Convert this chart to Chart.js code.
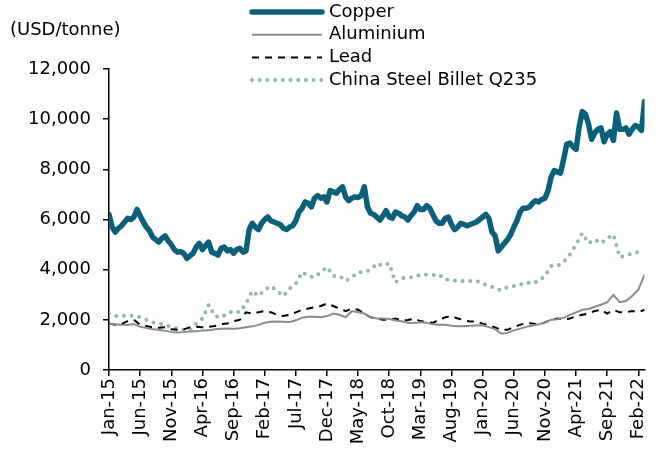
<!DOCTYPE html>
<html>
<head>
<meta charset="utf-8">
<script src="https://cdn.jsdelivr.net/npm/chart.js@4/dist/chart.umd.min.js"></script>
<style>
  html, body { margin: 0; padding: 0; background: #fff; }
  #wrap { width: 662px; height: 456px; position: relative; }
</style>
</head>
<body>
<div id="wrap"><canvas id="c" width="662" height="456"></canvas></div>
<script>
// Month index 0 = Jan-15; axis labels every 5 months.
const tickPos = [0, 5, 10, 15, 20, 25, 30, 35, 40, 45, 50, 55, 60, 65, 70, 75, 80, 85];
const tickLabels = ['Jan-15', 'Jun-15', 'Nov-15', 'Apr-16', 'Sep-16', 'Feb-17', 'Jul-17', 'Dec-17', 'May-18',
    'Oct-18', 'Mar-19', 'Aug-19', 'Jan-20', 'Jun-20', 'Nov-20', 'Apr-21', 'Sep-21', 'Feb-22'];
const yTicks = [0, 2000, 4000, 6000, 8000, 10000, 12000];

// Copper, read every half month (USD/tonne)
const copper = [
    6200, 5700, 5500, 5650, 5750, 5900, 6050, 6000, 6100, 6400,
    6150, 5900, 5700, 5550, 5300, 5200, 5100, 5250, 5350, 5150,
    5000, 4800, 4700, 4720, 4650, 4450, 4550, 4650, 4900, 5050,
    4800, 4950, 5100, 4700, 4650, 4580, 4850, 4900, 4750, 4800,
    4650, 4800, 4850, 4700, 4750, 5600, 5850, 5700, 5600, 5850,
    6000, 6100, 5950, 5900, 5850, 5800, 5650, 5600, 5700, 5750,
    5950, 6300, 6450, 6700, 6650, 6500, 6850, 6950, 6850, 6900,
    6700, 7150, 7100, 7050, 7200, 7300, 6900, 6750, 6850, 6900,
    6880, 6950, 7300, 6500, 6250, 6200, 6100, 5980, 6150, 6350,
    6100, 6050, 6300, 6250, 6150, 6100, 5980, 6150, 6300, 6550,
    6400, 6400, 6550, 6450, 6200, 5950, 5850, 5850, 6050, 6100,
    5800, 5600, 5700, 5850, 5800, 5750, 5800, 5850, 5900, 6000,
    6100, 6200, 6050, 5500, 5350, 4750, 4900, 5050, 5200, 5400,
    5700, 5950, 6300, 6450, 6450, 6500, 6650, 6750, 6700, 6800,
    6850, 7150, 7700, 7950, 7900, 7850, 8400, 9000, 9050, 8900,
    8800, 9700, 10300, 10200, 9800, 9200, 9450, 9600, 9650, 9100,
    9400, 9500, 9150, 10250, 9600, 9600, 9650, 9400, 9600, 9750,
    9700, 9550, 10700
];
// The other three, read once a month
const aluminium = [
    1850, 1820, 1800, 1790, 1830, 1720, 1680, 1620, 1600, 1560,
    1520, 1500, 1510, 1530, 1540, 1570, 1580, 1620, 1640, 1650,
    1640, 1660, 1700, 1740, 1800, 1880, 1920, 1930, 1920, 1910,
    1980, 2080, 2120, 2120, 2100, 2150, 2250, 2200, 2100, 2350,
    2300, 2250, 2100, 2050, 2050, 2030, 1970, 1940, 1880, 1870,
    1900, 1880, 1820, 1800, 1800, 1760, 1740, 1740, 1760, 1770,
    1780, 1710, 1630, 1450, 1480, 1580, 1650, 1720, 1770, 1820,
    1900, 2000, 2020, 2080, 2200, 2300, 2400, 2430, 2520, 2600,
    2700, 3000, 2700, 2750, 2950, 3200, 3800
];
const lead = [
    1850, 1800, 1830, 1950, 2000, 1800, 1750, 1700, 1680, 1700,
    1620, 1600, 1620, 1700, 1720, 1700, 1720, 1750, 1830, 1850,
    1950, 2000, 2300, 2250, 2300, 2350, 2300, 2200, 2150, 2200,
    2300, 2400, 2450, 2500, 2550, 2650, 2550, 2450, 2350, 2450,
    2400, 2250, 2100, 2050, 2000, 2000, 2050, 1980, 1990, 2050,
    1950, 1900, 1880, 2000, 2100, 2150, 2050, 2000, 1930, 1930,
    1850, 1780, 1700, 1600, 1600, 1720, 1800, 1870, 1850, 1800,
    1900, 2000, 2050, 2020, 2050, 2150, 2200, 2250, 2350, 2400,
    2250, 2400, 2300, 2300, 2350, 2300, 2400
];
const steel = [
    2250, 2150, 2150, 2180, 2150, 2100, 2000, 1900, 1850, 1800,
    1720, 1650, 1600, 1580, 1850, 2050, 2600, 2150, 2100, 2250,
    2350, 2300, 2650, 3150, 2950, 3200, 3350, 3150, 2950, 3250,
    3450, 3900, 3750, 3700, 3900, 4100, 3750, 3750, 3550, 3700,
    3900, 3900, 4000, 4250, 4150, 4250, 3500, 3650, 3700, 3700,
    3800, 3800, 3790, 3800, 3600, 3600, 3550, 3550, 3550, 3550,
    3430, 3380, 3250, 3180, 3300, 3350, 3400, 3500, 3450, 3550,
    3750, 4150, 4150, 4300, 4600, 5000, 5450, 5050, 5200, 5050,
    5250, 5400, 4500, 4550, 4650, 4700, 4750
];

const FONT = '"DejaVu Sans", sans-serif';
Chart.defaults.font.family = FONT;
Chart.defaults.font.size = 18;
Chart.defaults.color = '#000';

// Legend rows + unit label, drawn in the top margin like the original.
const LEG_X0 = 252, LEG_X1 = 322, LEG_TEXT_X = 329, LEG_Y0 = 12, LEG_ROW = 22.7;
const topLabels = {
    id: 'topLabels',
    afterDraw(chart) {
        const ctx = chart.ctx;
        ctx.save();
        ctx.font = '18px ' + FONT;
        ctx.fillStyle = '#000';
        ctx.textBaseline = 'middle';
        ctx.textAlign = 'left';
        ctx.fillText('(USD/tonne)', 10, 30);
        chart.data.datasets.forEach((ds, i) => {
            const y = LEG_Y0 + i * LEG_ROW;
            ctx.strokeStyle = ds.borderColor;
            ctx.lineWidth = ds.borderWidth;
            ctx.lineCap = ds.borderCapStyle || 'butt';
            ctx.setLineDash(ds.borderDash || []);
            ctx.beginPath();
            ctx.moveTo(LEG_X0, y);
            ctx.lineTo(LEG_X1, y);
            ctx.stroke();
            ctx.setLineDash([]);
            ctx.fillText(ds.label, LEG_TEXT_X, y);
        });
        ctx.restore();
    }
};

const toPts = (arr, step) => arr.map((v, i) => ({ x: i * step, y: v }));

new Chart(document.getElementById('c'), {
    type: 'line',
    data: {
        datasets: [
            { label: 'Copper', data: toPts(copper, 0.5), borderColor: '#0a6079', borderWidth: 5.5, borderCapStyle: 'round', borderJoinStyle: 'round' },
            { label: 'Aluminium', data: toPts(aluminium, 1), borderColor: '#8c8c8c', borderWidth: 2 },
            { label: 'Lead', data: toPts(lead, 1), borderColor: '#000000', borderWidth: 2, borderDash: [7, 6] },
            { label: 'China Steel Billet Q235', data: toPts(steel, 1), borderColor: '#8fb8a5', borderWidth: 4, borderDash: [0, 7.7], borderCapStyle: 'round' },
        ],
    },
    options: {
        responsive: false,
        animation: false,
        events: [],
        layout: { padding: { top: 69, right: 4, left: 0, bottom: 0 } },
        elements: { point: { radius: 0 }, line: { tension: 0 } },
        plugins: { legend: { display: false }, tooltip: { enabled: false } },
        scales: {
            x: {
                type: 'linear',
                min: 0,
                max: 86,
                afterBuildTicks: s => { s.ticks = tickPos.map(v => ({ value: v })); },
                afterFit: s => { s.height = 86; },
                ticks: {
                    autoSkip: false,
                    minRotation: 90,
                    maxRotation: 90,
                    padding: 2,
                    color: '#000',
                    callback: v => tickLabels[tickPos.indexOf(v)],
                },
                grid: { drawOnChartArea: false, drawTicks: true, tickLength: 6, color: '#000', lineWidth: 1.5 },
                border: { display: true, color: '#000', width: 1.5 },
            },
            y: {
                min: 0,
                max: 12000,
                afterBuildTicks: s => { s.ticks = yTicks.map(v => ({ value: v })); },
                afterFit: s => { s.width = 109; },
                ticks: {
                    padding: 12,
                    color: '#000',
                    callback: v => v.toLocaleString('en-US'),
                },
                grid: { drawOnChartArea: false, drawTicks: true, tickLength: 6, color: '#000', lineWidth: 1.5 },
                border: { display: true, color: '#000', width: 1.5 },
            },
        },
    },
    plugins: [topLabels],
});
</script>
</body>
</html>
